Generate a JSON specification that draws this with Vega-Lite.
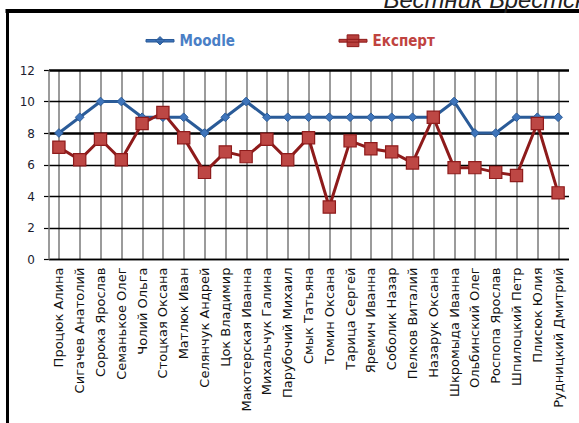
{
  "$schema": "https://vega.github.io/schema/vega-lite/v6.json",
  "autosize": {"type": "pad"},
  "padding": {"left": 5.5, "top": -13, "right": 0, "bottom": 0},
  "background": "white",
  "config": {
    "view": {"stroke": null},
    "axis": {"labelFont": "DejaVu Sans"}
  },
  "datasets": {
    "scores": [
      {"name": "Процюк Алина", "series": "Moodle", "value": 8},
      {"name": "Сигачев Анатолий", "series": "Moodle", "value": 9},
      {"name": "Сорока Ярослав", "series": "Moodle", "value": 10},
      {"name": "Семанькое Олег", "series": "Moodle", "value": 10},
      {"name": "Чолий Ольга", "series": "Moodle", "value": 9},
      {"name": "Стоцкая Оксана", "series": "Moodle", "value": 9},
      {"name": "Матлюк Иван", "series": "Moodle", "value": 9},
      {"name": "Селянчук Андрей", "series": "Moodle", "value": 8},
      {"name": "Цок Владимир", "series": "Moodle", "value": 9},
      {"name": "Макотерская Иванна", "series": "Moodle", "value": 10},
      {"name": "Михальчук Галина", "series": "Moodle", "value": 9},
      {"name": "Парубочий Михаил", "series": "Moodle", "value": 9},
      {"name": "Смык Татьяна", "series": "Moodle", "value": 9},
      {"name": "Томин Оксана", "series": "Moodle", "value": 9},
      {"name": "Тарица Сергей", "series": "Moodle", "value": 9},
      {"name": "Яремич Иванна", "series": "Moodle", "value": 9},
      {"name": "Соболик Назар", "series": "Moodle", "value": 9},
      {"name": "Пелков Виталий", "series": "Moodle", "value": 9},
      {"name": "Назарук Оксана", "series": "Moodle", "value": 9},
      {"name": "Шкромыда Иванна", "series": "Moodle", "value": 10},
      {"name": "Ольбинский Олег", "series": "Moodle", "value": 8},
      {"name": "Роспопа Ярослав", "series": "Moodle", "value": 8},
      {"name": "Шпилоцкий Петр", "series": "Moodle", "value": 9},
      {"name": "Плисюк Юлия", "series": "Moodle", "value": 9},
      {"name": "Рудницкий Дмитрий", "series": "Moodle", "value": 9},
      {"name": "Процюк Алина", "series": "Експерт", "value": 7.1},
      {"name": "Сигачев Анатолий", "series": "Експерт", "value": 6.3},
      {"name": "Сорока Ярослав", "series": "Експерт", "value": 7.6},
      {"name": "Семанькое Олег", "series": "Експерт", "value": 6.3},
      {"name": "Чолий Ольга", "series": "Експерт", "value": 8.6},
      {"name": "Стоцкая Оксана", "series": "Експерт", "value": 9.3},
      {"name": "Матлюк Иван", "series": "Експерт", "value": 7.7},
      {"name": "Селянчук Андрей", "series": "Експерт", "value": 5.5},
      {"name": "Цок Владимир", "series": "Експерт", "value": 6.8},
      {"name": "Макотерская Иванна", "series": "Експерт", "value": 6.5},
      {"name": "Михальчук Галина", "series": "Експерт", "value": 7.6},
      {"name": "Парубочий Михаил", "series": "Експерт", "value": 6.3},
      {"name": "Смык Татьяна", "series": "Експерт", "value": 7.7},
      {"name": "Томин Оксана", "series": "Експерт", "value": 3.3},
      {"name": "Тарица Сергей", "series": "Експерт", "value": 7.5},
      {"name": "Яремич Иванна", "series": "Експерт", "value": 7.0},
      {"name": "Соболик Назар", "series": "Експерт", "value": 6.8},
      {"name": "Пелков Виталий", "series": "Експерт", "value": 6.1},
      {"name": "Назарук Оксана", "series": "Експерт", "value": 9.0},
      {"name": "Шкромыда Иванна", "series": "Експерт", "value": 5.8},
      {"name": "Ольбинский Олег", "series": "Експерт", "value": 5.8},
      {"name": "Роспопа Ярослав", "series": "Експерт", "value": 5.5},
      {"name": "Шпилоцкий Петр", "series": "Експерт", "value": 5.3},
      {"name": "Плисюк Юлия", "series": "Експерт", "value": 8.6},
      {"name": "Рудницкий Дмитрий", "series": "Експерт", "value": 4.2}
    ]
  },
  "bounds": "flush",
  "spacing": 0,
  "vconcat": [
    {
      "title": {
        "text": "Вестник Брестского университета",
        "anchor": "start",
        "orient": "top",
        "frame": "group",
        "dx": 376,
        "offset": -21,
        "baseline": "alphabetic",
        "font": "Liberation Sans",
        "fontSize": 24,
        "fontStyle": "italic",
        "fontWeight": "normal",
        "color": "#222222"
      },
      "data": {"values": []},
      "mark": "point",
      "width": 575,
      "height": 0.01,
      "view": {"stroke": "#000000", "strokeWidth": 4}
    },
    {
      "bounds": "flush",
      "spacing": 40,
      "hconcat": [
        {
          "data": {"values": []},
          "mark": "point",
          "width": 0.01,
          "height": 430,
          "view": {"stroke": "#000000", "strokeWidth": 3}
        },
        {
          "bounds": "flush",
          "spacing": 57,
          "vconcat": [
            {
              "data": {"values": []},
              "mark": "point",
              "width": 0.01,
              "height": 0.01
            },
            {
              "width": 520,
              "height": 189,
              "data": {"name": "scores"},
              "encoding": {
                "x": {
                  "field": "name",
                  "type": "nominal",
                  "sort": null,
                  "scale": {"type": "point", "padding": 0.5},
                  "axis": {
                    "title": null,
                    "labelAngle": -90,
                    "labelAlign": "right",
                    "labelBaseline": "middle",
                    "labelFont": "DejaVu Sans",
                    "labelFontSize": 13,
                    "labelColor": "#111111",
                    "labelPadding": 8,
                    "labelLimit": 220,
                    "ticks": false,
                    "domain": true,
                    "domainColor": "#000000",
                    "domainWidth": 1.5,
                    "grid": true,
                    "gridColor": "#7a7a7a",
                    "gridWidth": 1.5
                  }
                },
                "y": {
                  "field": "value",
                  "type": "quantitative",
                  "scale": {"domain": [0, 12], "nice": false},
                  "axis": {
                    "title": null,
                    "values": [0, 2, 4, 6, 8, 10, 12],
                    "format": "d",
                    "labelFont": "DejaVu Sans",
                    "labelFontSize": 12,
                    "labelColor": "#1c1c30",
                    "labelPadding": 9,
                    "tickSize": 5,
                    "tickColor": "#000000",
                    "tickWidth": 1.2,
                    "domain": true,
                    "domainColor": "#7a7a7a",
                    "domainWidth": 1.5,
                    "grid": true,
                    "gridColor": "#000000",
                    "gridWidth": {
                      "condition": {"test": "datum.value == 8 || datum.value == 12", "value": 2.4},
                      "value": 1.3
                    }
                  }
                }
              },
              "layer": [
                {
                  "transform": [{"filter": "datum.series === 'Moodle'"}],
                  "mark": {"type": "line", "strokeWidth": 3},
                  "encoding": {
                    "stroke": {
                      "field": "series",
                      "type": "nominal",
                      "scale": {"domain": ["Moodle", "Експерт"], "range": ["#2a5b98", "#8e1b1b"]},
                      "legend": {
                        "title": null,
                        "orient": "none",
                        "legendX": 138,
                        "legendY": 15,
                        "direction": "horizontal",
                        "padding": 0,
                        "columnPadding": 101,
                        "symbolSize": 784,
                        "labelOffset": 5,
                        "labelFont": "Liberation Sans Narrow, DejaVu Sans Condensed, sans-serif",
                        "labelFontSize": 15,
                        "labelFontWeight": "bold",
                        "encode": {
                          "symbols": {
                            "update": {
                              "shape": [
                                {"test": "datum.value === 'Moodle'", "value": "M-1,-0.09H1V0.09H-1Z M0,-0.3L0.3,0L0,0.3L-0.3,0Z"},
                                {"value": "M-1,-0.1H1V0.1H-1Z M-0.42,-0.42H0.42V0.42H-0.42Z"}
                              ],
                              "fill": [
                                {"test": "datum.value === 'Moodle'", "value": "#3d72b8"},
                                {"value": "#b8403d"}
                              ],
                              "stroke": [
                                {"test": "datum.value === 'Moodle'", "value": "#1f4f8c"},
                                {"value": "#8e1b1b"}
                              ],
                              "strokeWidth": {"value": 1},
                              "opacity": {"value": 1}
                            }
                          },
                          "labels": {
                            "update": {
                              "fill": [
                                {"test": "datum.value === 'Moodle'", "value": "#4a7fc6"},
                                {"value": "#c0433f"}
                              ]
                            }
                          }
                        }
                      }
                    }
                  }
                },
                {
                  "transform": [{"filter": "datum.series === 'Moodle'"}],
                  "mark": {"type": "point", "shape": "diamond", "size": 75, "filled": true, "fill": "#3f75bb", "stroke": "#2a5b98", "strokeWidth": 1, "opacity": 1}
                },
                {
                  "transform": [{"filter": "datum.series === 'Експерт'"}],
                  "mark": {"type": "line", "strokeWidth": 3},
                  "encoding": {
                    "stroke": {"field": "series", "type": "nominal"}
                  }
                },
                {
                  "transform": [{"filter": "datum.series === 'Експерт'"}],
                  "mark": {"type": "point", "shape": "square", "size": 150, "filled": true, "fill": "#bd4744", "stroke": "#8e1b1b", "strokeWidth": 1.2, "opacity": 1}
                }
              ]
            }
          ]
        }
      ]
    }
  ]
}
